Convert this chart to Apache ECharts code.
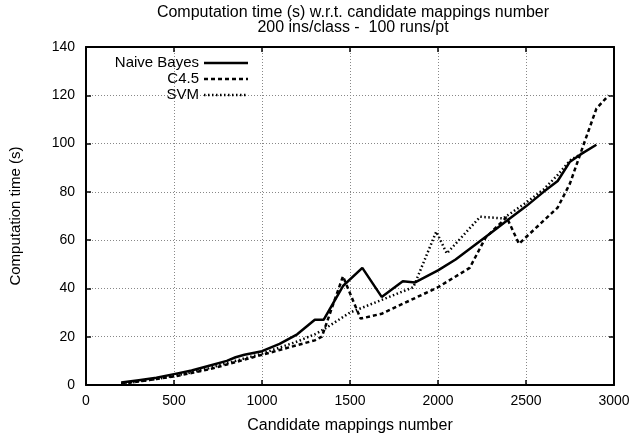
<!DOCTYPE html>
<html><head><meta charset="utf-8">
<script src="https://cdn.jsdelivr.net/npm/echarts@6/dist/echarts.min.js"></script>
<style>html,body{margin:0;padding:0;background:#fff}#c{width:634px;height:441px}</style>
</head><body><div id="c"></div>
<script>
const titleText = 'Computation time (s) w.r.t. candidate mappings number\n200 ins/class -  100 runs/pt';
const xName = 'Candidate mappings number';
const yName = 'Computation time (s)';
const seriesNames = ['Naive Bayes', 'C4.5', 'SVM'];

const nbX = [200, 300, 400, 500, 600, 700, 800, 850, 900, 1000, 1100, 1200, 1300, 1350, 1460, 1570, 1680, 1800, 1870, 2000, 2100, 2200, 2300, 2400, 2500, 2600, 2680, 2750, 2810, 2900];
const nbY = [1, 2, 3, 4.5, 6, 8, 10, 11.5, 12.5, 14, 17, 21, 27, 27, 41, 48.5, 36.5, 43, 42.5, 47.5, 52, 57.5, 63, 68.5, 74, 80, 84.5, 92.5, 95.5, 99.5];

const c45X = [200, 300, 400, 500, 600, 700, 800, 900, 1000, 1100, 1200, 1300, 1340, 1460, 1560, 1680, 1840, 2000, 2180, 2270, 2390, 2460, 2680, 2750, 2810, 2900, 2970];
const c45Y = [0.5, 1.5, 2.5, 3.5, 5, 6.5, 8.5, 10.5, 12.5, 14.5, 16.5, 18.5, 20, 45, 27.5, 29.5, 35, 40.5, 48.5, 61, 69.5, 58.5, 73.5, 83.5, 96, 114.5, 120];

const svmX = [200, 300, 400, 500, 600, 700, 800, 900, 1000, 1100, 1200, 1300, 1350, 1500, 1860, 1990, 2050, 2240, 2370, 2400, 2500, 2600, 2680, 2750, 2830];
const svmY = [0.5, 1.5, 2.5, 3.8, 5.2, 7, 9, 11, 13, 15.5, 18, 21, 23, 30, 40.5, 63.5, 54.5, 69.7, 69, 70.5, 75.5, 81, 87, 93, 96.5];

const pairs = (xs, ys) => xs.map((x, i) => [x, ys[i]]);
const font = 'Liberation Sans, Arial, sans-serif';
const chart = echarts.init(document.getElementById('c'), null, {renderer: 'canvas'});

const axisCommon = {
  axisLine: {show: true, onZero: false, lineStyle: {color: '#000', width: 2}},
  axisTick: {show: true, inside: true, length: 5, lineStyle: {color: '#000', width: 1.5}},
  splitLine: {show: false}
};
const styles = [
  {color: '#000', width: 2.5, type: 'solid'},
  {color: '#000', width: 2.5, type: [4, 3]},
  {color: '#000', width: 2.5, type: [1.5, 2.5]}
];

chart.setOption({
  animation: false,
  backgroundColor: '#fff',
  title: {
    text: titleText, left: 348, top: 0, textAlign: 'center',
    textStyle: {fontFamily: font, fontSize: 16, fontWeight: 'normal', color: '#000', lineHeight: 15}
  },
  legend: {
    orient: 'vertical', left: 113, top: 55, align: 'right', itemGap: 0,
    itemWidth: 44, itemHeight: 12, padding: 0,
    textStyle: {fontFamily: font, fontSize: 15, lineHeight: 16, height: 16, color: '#000', width: 86, align: 'right'},
    data: seriesNames.map((n, i) => ({
      name: n, lineStyle: styles[i],
      itemStyle: {color: 'rgba(0,0,0,0)', borderWidth: 0, opacity: 0}
    }))
  },
  grid: {left: 85, right: 20, top: 47, bottom: 56, containLabel: false},
  xAxis: [
    Object.assign({}, axisCommon, {
      type: 'value', min: 0, max: 3000, interval: 500, position: 'bottom',
      name: xName, nameLocation: 'middle', nameGap: 33,
      nameTextStyle: {fontFamily: font, fontSize: 16, color: '#000'},
      axisLabel: {fontFamily: font, fontSize: 14, color: '#000', margin: 9, formatter: v => String(v)},
      splitLine: {show: true, lineStyle: {color: '#888', type: [1, 2], width: 1}}
    }),
    Object.assign({}, axisCommon, {
      type: 'value', min: 0, max: 3000, interval: 500, position: 'top',
      axisLabel: {show: false}
    })
  ],
  yAxis: [
    Object.assign({}, axisCommon, {
      type: 'value', min: 0, max: 140, interval: 20, position: 'left',
      name: yName, nameLocation: 'middle', nameGap: 63,
      nameTextStyle: {fontFamily: font, fontSize: 15, color: '#000'},
      axisLabel: {fontFamily: font, fontSize: 14, color: '#000', margin: 11},
      splitLine: {show: true, lineStyle: {color: '#888', type: [1, 2], width: 1}}
    }),
    Object.assign({}, axisCommon, {
      type: 'value', min: 0, max: 140, interval: 20, position: 'right',
      axisLabel: {show: false}
    })
  ],
  series: seriesNames.map((n, i) => ({
    name: n, type: 'line',
    data: [pairs(nbX, nbY), pairs(c45X, c45Y), pairs(svmX, svmY)][i],
    showSymbol: false, symbol: 'none',
    lineStyle: styles[i], itemStyle: {color: '#000'}
  }))
});
</script></body></html>
